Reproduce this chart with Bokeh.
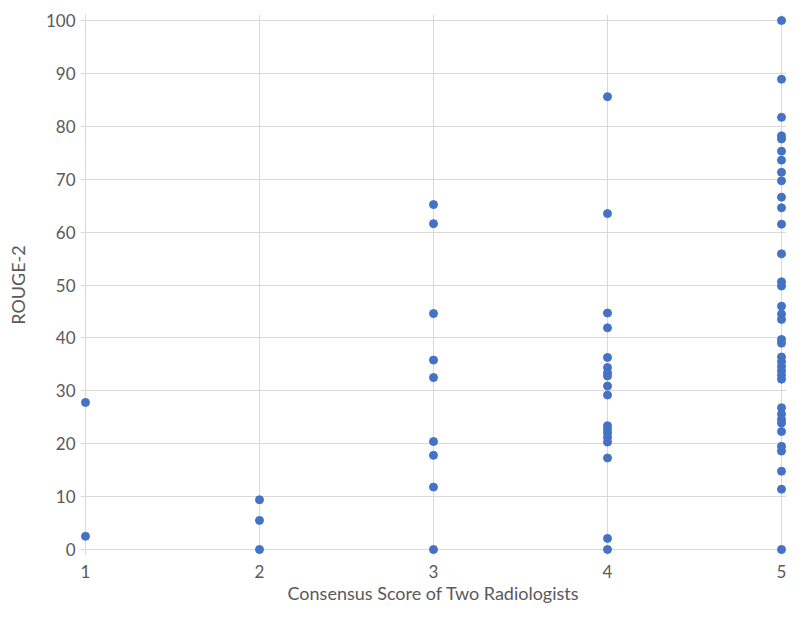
from bokeh.plotting import figure
from bokeh.models import Range1d, FixedTicker, ColumnDataSource
from bokeh.embed import file_html
from bokeh.resources import INLINE

# Data
score_1 = [27.8, 2.5]
score_2 = [9.4, 5.5, 0.0]
score_3 = [65.2, 61.6, 44.6, 35.8, 32.5, 20.4, 17.8, 11.8, 0.0]
score_4 = [85.6, 63.5, 44.7, 41.9, 36.3, 34.4, 33.4, 32.8, 30.9, 29.2,
           23.4, 22.7, 22.0, 21.2, 20.3, 17.3, 2.1, 0.0]
score_5 = [100.0, 88.9, 81.7, 78.2, 77.6, 75.3, 73.6, 71.3, 69.7, 66.6,
           64.6, 61.5, 55.9, 50.6, 49.8, 46.0, 44.5, 43.5, 39.7, 39.0,
           36.4, 35.5, 34.6, 33.8, 33.0, 32.2, 26.8, 25.6, 24.6, 23.9,
           22.3, 19.5, 18.6, 14.8, 11.4, 0.0]
x_ticks = [1, 2, 3, 4, 5]
y_ticks = list(range(0, 101, 10))

xs, ys = [], []
for s, vals in zip(x_ticks, [score_1, score_2, score_3, score_4, score_5]):
    xs += [s] * len(vals)
    ys += vals
src = ColumnDataSource(dict(x=xs, y=ys))

p = figure(width=786, height=607, output_backend="svg", toolbar_location=None,
           x_range=Range1d(0.9713, 5.0287), y_range=Range1d(-1.134, 101.134),
           min_border_left=80, min_border_right=0, min_border_top=14,
           min_border_bottom=52)
p.outline_line_color = None
p.background_fill_color = "white"
p.border_fill_color = "white"

p.scatter("x", "y", source=src, size=8, color="#4472C4", line_color="#4472C4")

FONT = "Lato"
GRAY = "#595959"
for ax in (p.xaxis[0], p.yaxis[0]):
    ax.axis_line_color = None
    ax.major_tick_line_color = None
    ax.minor_tick_line_color = None
    ax.major_tick_out = 0
    ax.major_tick_in = 0
    ax.major_label_text_font = FONT
    ax.major_label_text_color = GRAY
    ax.major_label_text_font_size = "17px"
    ax.axis_label_text_font = FONT
    ax.axis_label_text_color = GRAY
    ax.axis_label_text_font_style = "normal"
    ax.axis_label_text_font_size = "18px"

p.xaxis.ticker = FixedTicker(ticks=x_ticks)
p.yaxis.ticker = FixedTicker(ticks=y_ticks)
p.xaxis.major_label_standoff = 9
p.yaxis.major_label_standoff = 5
p.xaxis.axis_label = "Consensus Score of Two Radiologists"
p.yaxis.axis_label = "ROUGE-2"
p.xaxis.axis_label_standoff = 1
p.yaxis.axis_label_standoff = 14

p.xgrid.ticker = FixedTicker(ticks=x_ticks)
p.ygrid.ticker = FixedTicker(ticks=y_ticks)
p.xgrid.grid_line_color = "#d9d9d9"
p.ygrid.grid_line_color = "#d9d9d9"
p.xgrid.grid_line_width = 1
p.ygrid.grid_line_width = 1

open("out.html", "w").write(file_html(p, INLINE))
